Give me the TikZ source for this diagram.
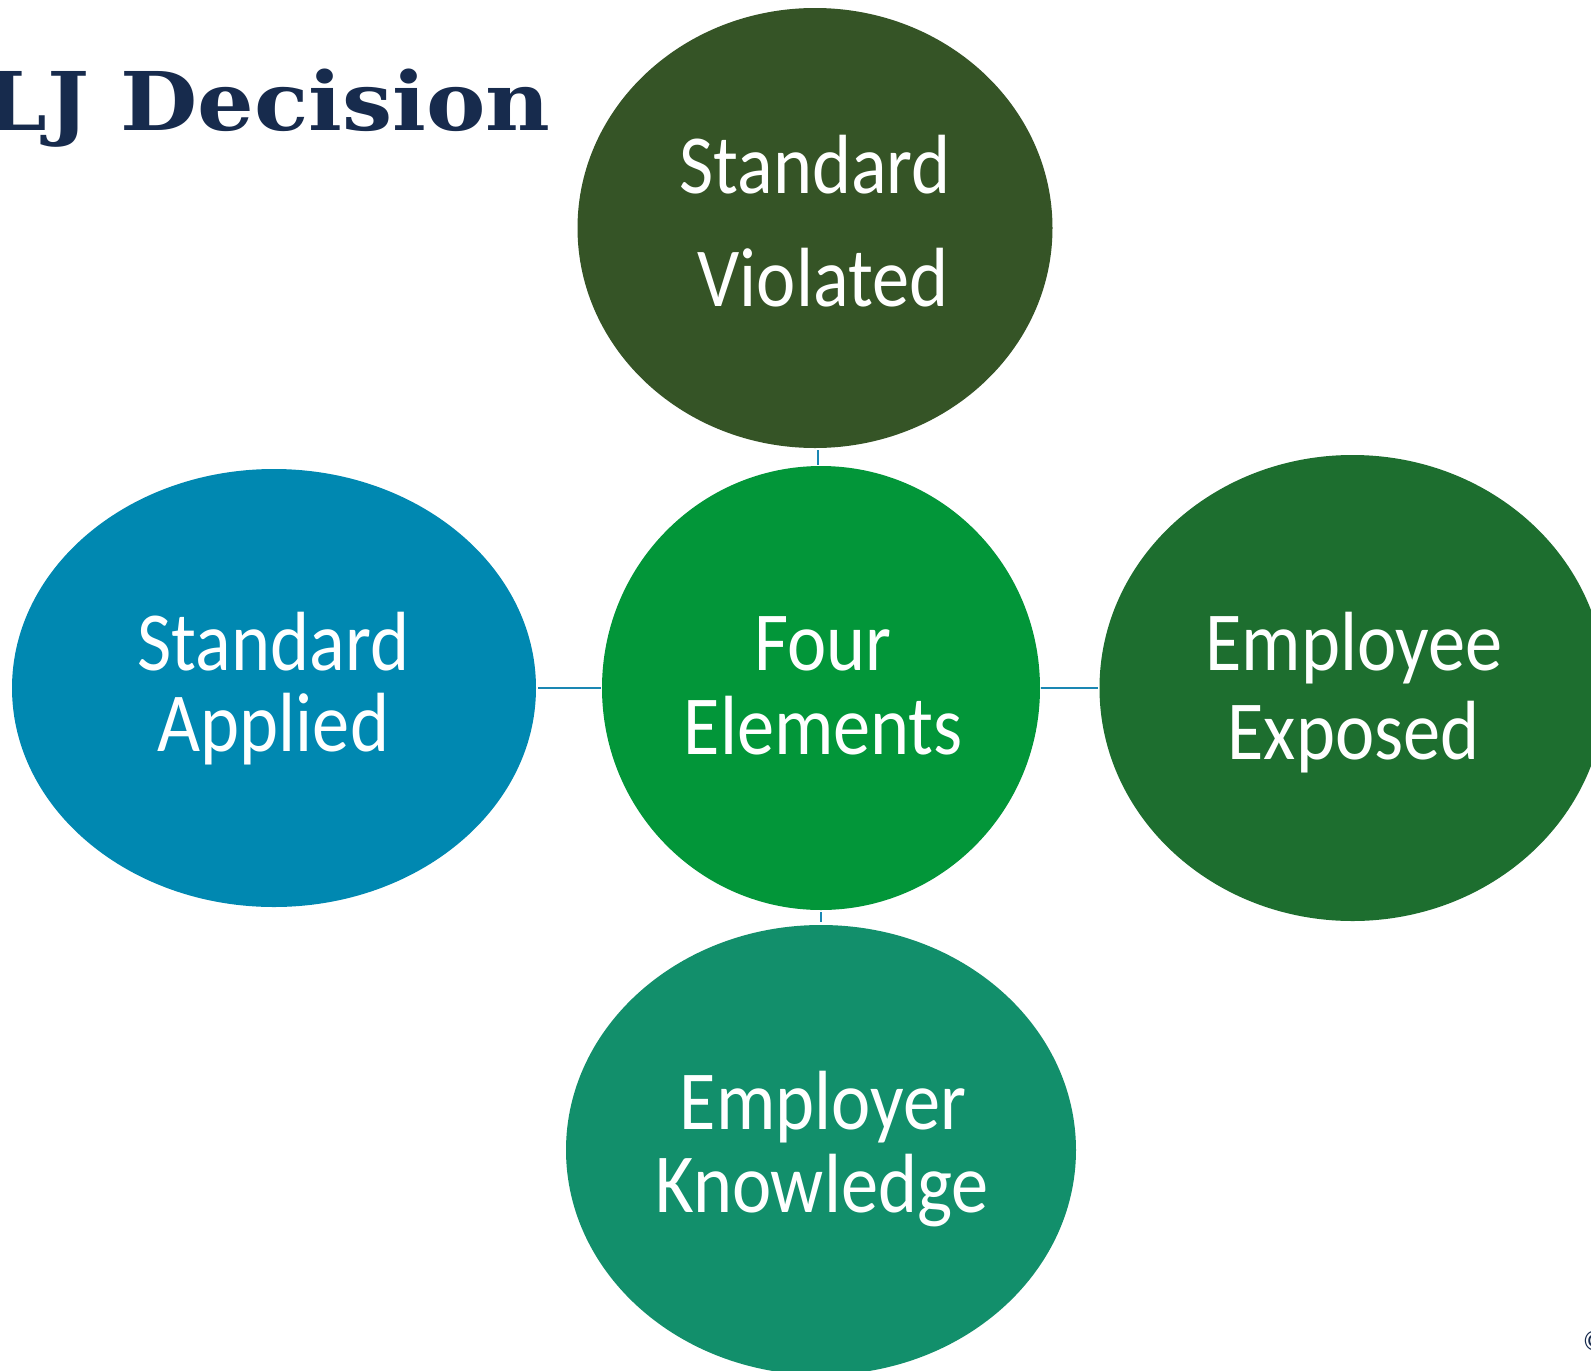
\documentclass[tikz,border=0pt]{standalone}
\usepackage{fontspec}
\usetikzlibrary{shapes.geometric}
\newfontfamily\lblfont[FakeStretch=0.885]{Carlito}
\newfontfamily\ttlfont[FakeStretch=1.1]{DejaVu Serif}
\definecolor{cTop}{HTML}{355426}
\definecolor{cLeft}{HTML}{0088B1}
\definecolor{cCtr}{HTML}{029639}
\definecolor{cRight}{HTML}{1D6E2F}
\definecolor{cBot}{HTML}{128F6B}
\definecolor{cLink}{HTML}{1A87B3}
\definecolor{cNavy}{HTML}{172B4D}
\tikzset{
  bubble/.style={ellipse, inner sep=0pt, outer sep=0pt},
  lbl/.style={anchor=base, inner sep=0pt, text=white, font=\lblfont\fontsize{84}{84}\selectfont},
  link/.style={draw=cLink, line width=2.6pt},
}
\begin{document}
\begin{tikzpicture}[x=1pt,y=-1pt]
\useasboundingbox (0,0) rectangle (1591,1371);
\clip (0,0) rectangle (1591,1371);
\fill[white] (0,0) rectangle (1591,1371);

% title
\node[anchor=base east, inner sep=0pt, text=cNavy, font=\ttlfont\bfseries\fontsize{81}{81}\selectfont] (title) at (551,130) {LJ Decision};

% circles
\node[bubble, fill=cTop,   minimum width=475pt, minimum height=440pt] (top)   at (815,228) {};
\node[bubble, fill=cLeft,  minimum width=524pt, minimum height=438pt] (left)  at (274,688) {};
\node[bubble, fill=cCtr,   minimum width=438pt, minimum height=444pt] (ctr)   at (821,688) {};
\node[bubble, fill=cRight, minimum width=506pt, minimum height=466pt] (right) at (1352.5,688) {};
\node[bubble, fill=cBot,   minimum width=510pt, minimum height=450pt] (bot)   at (821,1150) {};

% connectors
\draw[link] ([xshift=3pt,yshift=-2pt]top.south) -- ([xshift=-3pt,yshift=1pt]ctr.north);
\draw[link] ([xshift=2pt]left.east) -- ([xshift=-1pt]ctr.west);
\draw[link] ([xshift=1pt]ctr.east) -- ([xshift=-1.5pt]right.west);
\draw[link] ([yshift=-2pt]ctr.south) -- ([yshift=3pt]bot.north);

% labels
\node[lbl] (topA)   at (815,193)  {Standard};
\node[lbl] (topB)   at (823,306)  {Violated};
\node[lbl] (leftA)  at (273.5,670) {Standard};
\node[lbl] (leftB)  at (273.5,751) {Applied};
\node[lbl] (ctrA)   at (823,670)  {Four};
\node[lbl] (ctrB)   at (823.4,754) {Elements};
\node[lbl] (rightA) at (1354,670) {Employee};
\node[lbl] (rightB) at (1353.6,759) {Exposed};
\node[lbl] (botA)   at (823,1129) {Employer};
\node[lbl] (botB)   at (822,1212.5) {Knowledge};

% copyright mark at the corner
\node[anchor=base west, inner sep=0pt, text=cNavy, font=\lblfont\fontsize{28}{28}\selectfont] (copy) at (1583,1350) {©};
\end{tikzpicture}
\end{document}
